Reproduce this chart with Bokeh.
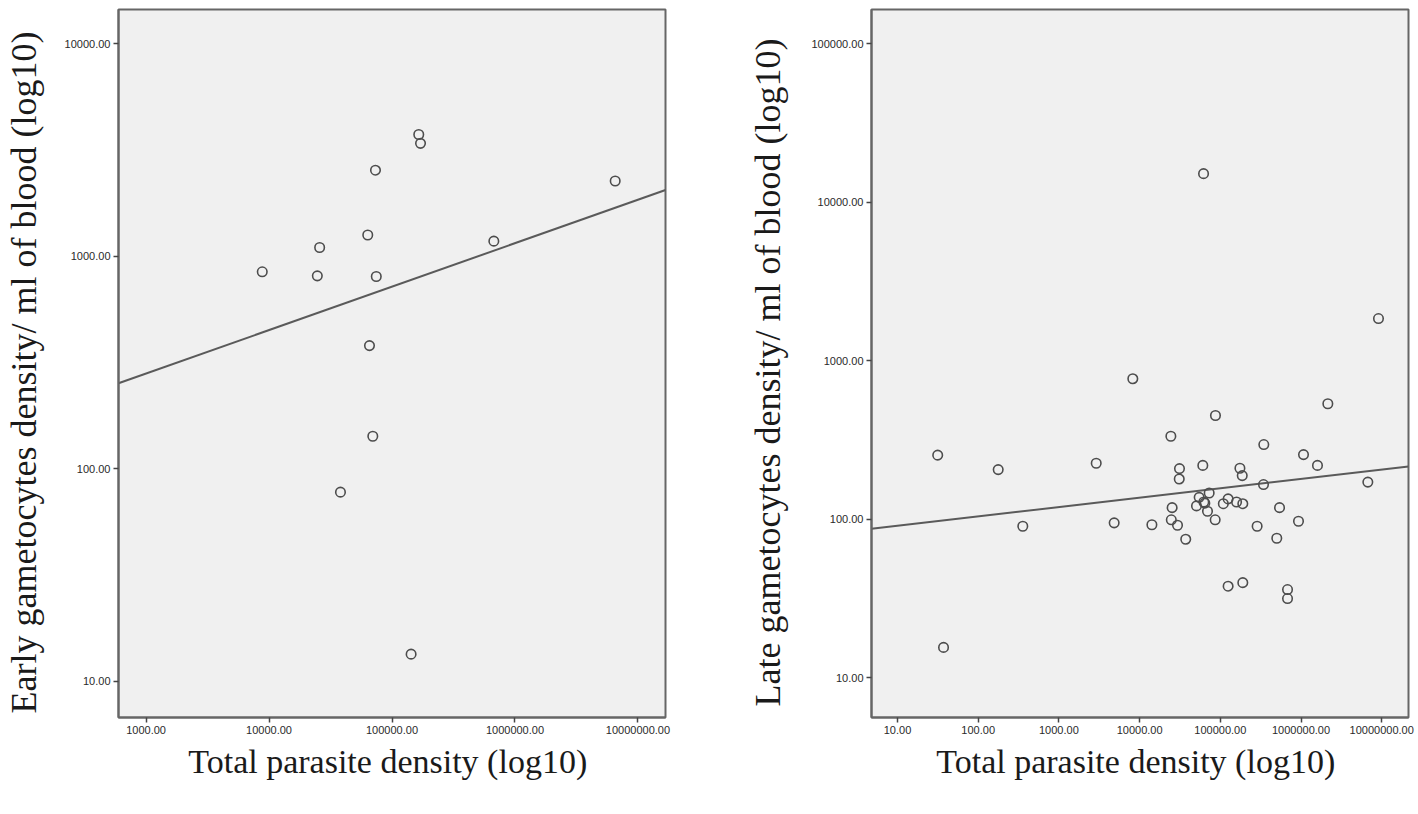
from bokeh.plotting import figure
from bokeh.layouts import row
from bokeh.models import FixedTicker, PrintfTickFormatter, Range1d
from bokeh.embed import file_html
from bokeh.resources import INLINE
import numpy as np

# ---- Left panel: early gametocytes ----
early_total = [165000, 170600, 73400, 6530000, 63500, 25800, 673000, 8810,
               24700, 74500, 65600, 69800, 38100, 143000]
early_gam = [3730, 3390, 2535, 2254, 1256, 1097, 1175, 843,
             807, 801, 379, 142, 77.5, 13.4]
early_fit_intercept = 1.834   # log10 scale
early_fit_slope = 0.2044
early_xticks = [1000, 10000, 100000, 1000000, 10000000]
early_yticks = [10, 100, 1000, 10000]

# ---- Right panel: late gametocytes ----
late_total = [31.5, 177, 357, 2900, 4840, 8240, 14200, 24400, 31200, 31000,
              25300, 24700, 29500, 37300, 60700, 87100, 54700, 72800, 50700,
              64300, 69400, 86400, 109000, 125000, 159000, 190000, 175000,
              187000, 346000, 343000, 286000, 542000, 501000, 1074000,
              1600000, 931000, 2150000, 6730000, 125000, 190000, 681000,
              681000, 62500, 62000, 9120000, 37.2]
late_gam = [253, 205, 90, 225, 94.6, 767, 92, 333, 208, 179,
            118, 98.9, 91.4, 74.6, 218, 450, 137, 146, 121,
            126, 112, 98.9, 125, 134, 128, 125, 209,
            188, 295, 165, 90, 118, 75.7, 255,
            218, 96.8, 534, 171, 37.7, 39.7, 35.9,
            31.5, 128, 15100, 1840, 15.5]
late_fit_intercept = 1.898
late_fit_slope = 0.0591
late_xticks = [10, 100, 1000, 10000, 100000, 1000000, 10000000]
late_yticks = [10, 100, 1000, 10000, 100000]

BG = "#f0f0f0"
FRAME = "#666666"
PT = "#4d4d4d"
SERIF = "Liberation Serif"
SANS = "Liberation Sans"


def make_panel(xs, ys, b, m, xr, yr, xticks, yticks, width, mbl, mbr,
               mbt, mbb, ylabel, ystand):
    p = figure(width=width, height=800, x_axis_type="log", y_axis_type="log",
               x_range=Range1d(*xr), y_range=Range1d(*yr),
               output_backend="svg", toolbar_location=None,
               min_border_left=mbl, min_border_right=mbr,
               min_border_top=mbt, min_border_bottom=mbb)
    p.background_fill_color = BG
    p.border_fill_color = "white"
    p.outline_line_color = FRAME
    p.outline_line_width = 2
    p.grid.visible = False

    xlo, xhi = xr
    fx = np.array([xlo, xhi])
    fy = 10 ** (b + m * np.log10(fx))
    p.line(fx, fy, line_color="#5a5a5a", line_width=2)
    p.scatter(xs, ys, marker="circle", size=9.5, fill_color=None,
              line_color=PT, line_width=1.6)

    for ax, ticks in ((p.xaxis[0], xticks), (p.yaxis[0], yticks)):
        ax.ticker = FixedTicker(ticks=ticks)
        ax.formatter = PrintfTickFormatter(format="%.2f")
        ax.minor_tick_line_color = None
        ax.major_tick_in = 0
        ax.major_tick_out = 5
        ax.major_tick_line_color = "#444444"
        ax.major_tick_line_width = 1.5
        ax.axis_line_color = FRAME
        ax.axis_line_width = 2
        ax.major_label_text_font = SANS
        ax.major_label_text_font_size = "11px"
        ax.major_label_text_color = "#2a2a2a"
        ax.major_label_standoff = 3
        ax.axis_label_text_font = SERIF
        ax.axis_label_text_font_style = "normal"
        ax.axis_label_text_color = "#1a1a1a"

    p.xaxis.axis_label = "Total parasite density  (log10)"
    p.xaxis.axis_label_text_font_size = "34px"
    p.xaxis.axis_label_standoff = 6
    p.yaxis.axis_label = ylabel
    p.yaxis.axis_label_text_font_size = "36px"
    p.yaxis.axis_label_standoff = ystand
    p.yaxis.major_label_orientation = "horizontal"
    return p


p1 = make_panel(early_total, early_gam, early_fit_intercept, early_fit_slope,
                (10 ** 2.776, 10 ** 7.224), (10 ** 0.829, 10 ** 4.16),
                early_xticks, early_yticks, 740, 118, 75, 8, 82,
                "Early gametocytes density/  ml of blood  (log10)", 18)

p2 = make_panel(late_total, late_gam, late_fit_intercept, late_fit_slope,
                (10 ** 0.678, 10 ** 7.332), (10 ** 0.748, 10 ** 5.2145),
                late_xticks, late_yticks, 678, 131, 10, 9, 83,
                "Late gametocytes density/  ml of blood  (log10)", 21)

layout = row(p1, p2)
open("out.html", "w").write(file_html(layout, INLINE))
